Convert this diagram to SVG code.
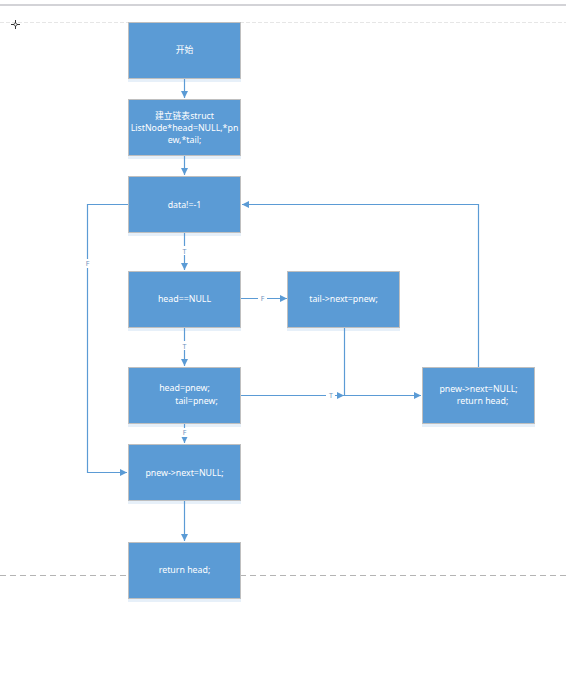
<svg xmlns="http://www.w3.org/2000/svg" width="566" height="677" viewBox="0 0 566 677">
<defs>
<style>
.box{fill:#5b9bd5;stroke:#bfbfbf;stroke-width:1}
.sh{fill:#5b9bd5;opacity:0.15}
.t{fill:#ffffff;font-family:"Noto Sans","Noto Sans CJK SC",sans-serif;font-size:8.8px;text-anchor:middle}
.c{fill:none;stroke:#5b9bd5;stroke-width:1.2}
.lb{fill:#6f93bd;font-family:"Noto Sans",sans-serif;font-size:7px;text-anchor:middle}
</style>
<marker id="ah" markerWidth="8" markerHeight="8" refX="7" refY="4" orient="auto" markerUnits="userSpaceOnUse">
<path d="M0,0.5 L7,4 L0,7.5 Z" fill="#5b9bd5"/>
</marker>
</defs>
<rect width="566" height="677" fill="#ffffff"/>
<line x1="0" y1="5" x2="566" y2="5" stroke="#a8a8b0" stroke-width="1.2"/>
<line x1="0" y1="22.5" x2="566" y2="22.5" stroke="#e0e0e0" stroke-width="0.8" stroke-dasharray="4,2"/>
<line x1="0" y1="575.5" x2="566" y2="575.5" stroke="#b4b4b4" stroke-width="1" stroke-dasharray="6,4"/>
<g stroke="#333" stroke-width="1"><line x1="11" y1="24.5" x2="20" y2="24.5"/><line x1="15.5" y1="20" x2="15.5" y2="29"/></g>
<circle cx="15.5" cy="24.5" r="1.5" fill="#fff" stroke="#333" stroke-width="0.8"/>

<g id="connectors">
<line class="c" x1="184.5" y1="78" x2="184.5" y2="98" marker-end="url(#ah)"/>
<line class="c" x1="184.5" y1="155" x2="184.5" y2="175" marker-end="url(#ah)"/>
<line class="c" x1="184.5" y1="232" x2="184.5" y2="270" marker-end="url(#ah)"/>
<path class="c" d="M128,204.5 H87.5 V472.5 H127" marker-end="url(#ah)"/>
<line class="c" x1="241" y1="298.5" x2="287" y2="298.5" marker-end="url(#ah)"/>
<line class="c" x1="184.5" y1="327" x2="184.5" y2="366" marker-end="url(#ah)"/>
<path class="c" d="M344.5,327 V395.5"/>
<line class="c" x1="241" y1="395.5" x2="344" y2="395.5" marker-end="url(#ah)"/>
<line class="c" x1="344" y1="395.5" x2="421" y2="395.5" marker-end="url(#ah)"/>
<path class="c" d="M478.5,367 V204.5 H242" marker-end="url(#ah)"/>
<line class="c" x1="184.5" y1="423" x2="184.5" y2="443" marker-end="url(#ah)"/>
<line class="c" x1="184.5" y1="500" x2="184.5" y2="541" marker-end="url(#ah)"/>
<rect x="180" y="246" width="9" height="9" fill="#fff"/><text class="lb" x="184.5" y="253.5">T</text>
<rect x="83" y="259" width="9" height="9" fill="#fff"/><text class="lb" x="87.5" y="266">F</text>
<rect x="258" y="294" width="9" height="9" fill="#fff"/><text class="lb" x="262.5" y="301">F</text>
<rect x="180" y="341" width="9" height="9" fill="#fff"/><text class="lb" x="184.5" y="348.5">T</text>
<rect x="326" y="391" width="9" height="9" fill="#fff"/><text class="lb" x="331" y="398">T</text>
<rect x="180" y="428" width="9" height="9" fill="#fff"/><text class="lb" x="184.5" y="435">F</text>
</g>

<g id="n1"><rect class="sh" x="128" y="79" width="113" height="3"/><rect class="box" x="128.5" y="22.5" width="112" height="56"/><text class="t" x="184.5" y="53">开始</text></g>
<g id="n2"><rect class="sh" x="128" y="156" width="113" height="3"/><rect class="box" x="128.5" y="99.5" width="112" height="56"/>
<text class="t" x="184.5" y="119">建立链表struct</text><text class="t" x="184.5" y="131">ListNode*head=NULL,*pn</text><text class="t" x="184.5" y="143">ew,*tail;</text></g>
<g id="n3"><rect class="sh" x="128" y="233" width="113" height="3"/><rect class="box" x="128.5" y="176.5" width="112" height="56"/><text class="t" x="184.5" y="208">data!=-1</text></g>
<g id="n4"><rect class="sh" x="128" y="328" width="113" height="3"/><rect class="box" x="128.5" y="271.5" width="112" height="56"/><text class="t" x="184.5" y="302">head==NULL</text></g>
<g id="n5"><rect class="sh" x="287" y="328" width="113" height="3"/><rect class="box" x="287.5" y="271.5" width="112" height="56"/><text class="t" x="343.5" y="302">tail-&gt;next=pnew;</text></g>
<g id="n6"><rect class="sh" x="128" y="424" width="113" height="3"/><rect class="box" x="128.5" y="367.5" width="112" height="56"/>
<text class="t" x="184.5" y="391">head=pnew;</text><text class="t" x="196.5" y="404">tail=pnew;</text></g>
<g id="n7"><rect class="sh" x="422" y="424" width="113" height="3"/><rect class="box" x="422.5" y="367.5" width="112" height="56"/>
<text class="t" x="478.5" y="392">pnew-&gt;next=NULL;</text><text class="t" x="482.5" y="404">return head;</text></g>
<g id="n8"><rect class="sh" x="128" y="501" width="113" height="3"/><rect class="box" x="128.5" y="444.5" width="112" height="56"/><text class="t" x="184.5" y="476">pnew-&gt;next=NULL;</text></g>
<g id="n9"><rect class="sh" x="128" y="599" width="113" height="3"/><rect class="box" x="128.5" y="542.5" width="112" height="56"/><text class="t" x="184.5" y="573">return head;</text></g>
</svg>
